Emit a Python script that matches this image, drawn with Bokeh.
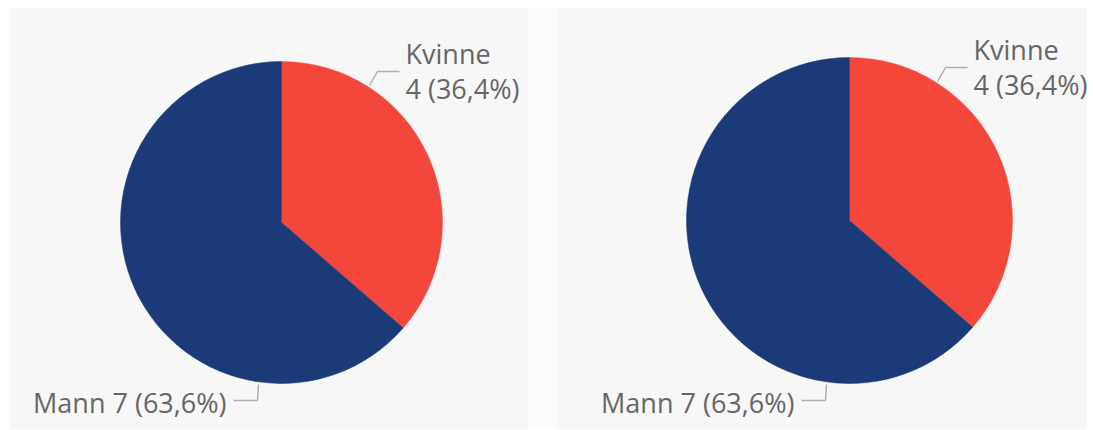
import math
from bokeh.plotting import figure
from bokeh.layouts import row
from bokeh.models import Range1d, ColumnDataSource
from bokeh.core.properties import value
from bokeh.embed import file_html
from bokeh.resources import INLINE

# ---- data ----
categories = ["Kvinne", "Mann"]
counts = [4, 7]
colors = ["#F4473B", "#1A3B78"]

H = 422
FONT = "Open Sans"
TXT = "#666666"
LEAD = "#b0b0b0"
FS = "27px"
DY = 7  # baseline correction


def fmt_pct(v, tot):
    return f"{100.0 * v / tot:.1f}".replace(".", ",") + "%"


def build(width, cx, cy, r):
    p = figure(width=width, height=H, output_backend="svg", toolbar_location=None,
               x_range=Range1d(0, width), y_range=Range1d(0, H), min_border=0)
    p.axis.visible = False
    p.grid.visible = False
    p.outline_line_color = None
    p.background_fill_color = "#f7f7f7"
    p.border_fill_color = "#f7f7f7"

    total = sum(counts)
    # Slices start at 12 o'clock and run clockwise
    starts, ends = [], []
    acc = 0.0
    for v in counts:
        a0 = math.pi / 2 - 2 * math.pi * acc / total
        acc += v
        a1 = math.pi / 2 - 2 * math.pi * acc / total
        starts.append(a1)
        ends.append(a0)
    src = ColumnDataSource(dict(x=[cx] * len(counts), y=[cy] * len(counts),
                                start=starts, end=ends, color=colors))
    p.wedge(x="x", y="y", radius=r, start_angle="start", end_angle="end",
            fill_color="color", line_color="color", line_width=0.5, source=src)

    # Kvinne label (upper right) with leader
    k_v = counts[0]
    p.line([cx + 88, cx + 96, cx + 118], [cy + r - 24, cy + r - 10, cy + r - 10],
           line_color=LEAD, line_width=1.5)
    p.text([cx + 124], [cy + r + 1 + DY], text=[categories[0]],
           text_font=value(FONT), text_font_size=FS, text_color=TXT,
           text_baseline="alphabetic", text_align="left")
    p.text([cx + 124], [cy + r - 34 + DY], text=[f"{k_v} ({fmt_pct(k_v, total)})"],
           text_font=value(FONT), text_font_size=FS, text_color=TXT,
           text_baseline="alphabetic", text_align="left")

    # Mann label (bottom left) with leader
    m_v = counts[1]
    p.line([cx - 48, cx - 24, cx - 23], [cy - r - 17, cy - r - 17, cy - r - 1],
           line_color=LEAD, line_width=1.5)
    p.text([cx - 55], [cy - r - 26 + DY], text=[f"{categories[1]} {m_v} ({fmt_pct(m_v, total)})"],
           text_font=value(FONT), text_font_size=FS, text_color=TXT,
           text_baseline="alphabetic", text_align="right")
    return p


left = build(520, 272, 207, 161)
gap = figure(width=28, height=H, output_backend="svg", toolbar_location=None, min_border=0)
gap.axis.visible = False
gap.grid.visible = False
gap.outline_line_color = None
gap.background_fill_color = "#fbfbfb"
gap.border_fill_color = "#fbfbfb"
right = build(530, 292, 209, 163)

layout = row(left, gap, right, spacing=0)
layout.margin = (7, 0, 0, 9)
open("out.html", "w").write(file_html(layout, INLINE))
